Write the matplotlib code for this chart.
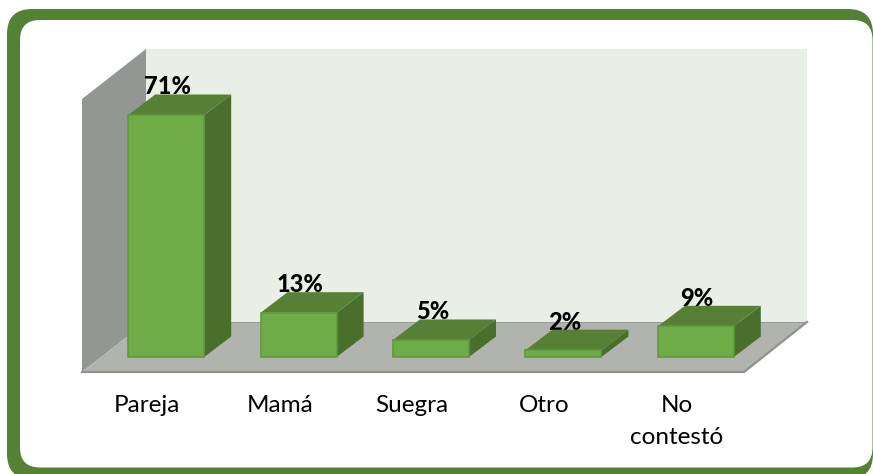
import matplotlib
matplotlib.use("Agg")
import matplotlib.pyplot as plt
from matplotlib.patches import FancyBboxPatch, Polygon

categories = ["Pareja", "Mamá", "Suegra", "Otro", "No\ncontestó"]
values = [71, 13, 5, 2, 9]
labels = ["71%", "13%", "5%", "2%", "9%"]

W, H = 873, 474
plt.rcParams["font.family"] = ["Lato", "DejaVu Sans"]
fig = plt.figure(figsize=(W / 100, H / 100), dpi=100, facecolor="white")

# frame
bg = fig.add_axes([0, 0, 1, 1])
bg.set_xlim(0, W)
bg.set_ylim(H, 0)
bg.axis("off")
bg.add_patch(FancyBboxPatch((32, 34), 816, 420, boxstyle="round,pad=25,rounding_size=25",
                            fc="#548235", ec="none"))
bg.add_patch(FancyBboxPatch((40, 40), 812.5, 407.5, boxstyle="round,pad=20,rounding_size=20",
                            fc="white", ec="none"))

# plot axes: x = category index, y = percent
x0, x1 = 100, 762
yb, yt = 357, 115
ax = fig.add_axes([x0 / W, 1 - yb / H, (x1 - x0) / W, (yb - yt) / H])
ax.set_xlim(-0.5, 4.5)
ax.set_ylim(0, 71)
ax.axis("off")
ax.patch.set_alpha(0)

px_x = (x1 - x0) / 5
px_y = (yb - yt) / 71
dep_x = 27 / px_x
dep_y = 20.5 / px_y
half = 38 / px_x


def P(pts, **kw):
    kw.setdefault("ec", "none")
    ax.add_patch(Polygon(pts, closed=True, clip_on=False, **kw))


def X(px):
    return (px - x0) / px_x - 0.5


def Y(py):
    return (yb - py) / px_y


# walls & floor
P([(X(146), Y(49)), (X(807), Y(49)), (X(807), Y(322)), (X(146), Y(322))], fc="#E9EEE7")
P([(X(82), Y(99)), (X(146), Y(49)), (X(146), Y(322)), (X(82), Y(372))], fc="#939793")
P([(X(82), Y(372)), (X(146), Y(322)), (X(807), Y(322)), (X(744), Y(372))], fc="#B0B3AE")
ax.plot([X(82), X(744), X(807)], [Y(372), Y(372), Y(322)], color="#8F928D", lw=1.6,
        clip_on=False, solid_joinstyle="miter")
ax.plot([X(146), X(807)], [Y(322), Y(322)], color="#9A9D98", lw=0.8, clip_on=False)

for i, (v, lab, cat) in enumerate(zip(values, labels, categories)):
    l, r = i - half, i + half
    P([(r, 0), (r + dep_x, dep_y), (r + dep_x, v + dep_y), (r, v)], fc="#4A6E2B", zorder=3)
    P([(l, v), (r, v), (r + dep_x, v + dep_y), (l + dep_x, v + dep_y)], fc="#578036", zorder=3)
    P([(l, 0), (r, 0), (r, v), (l, v)], fc="#6FAC47", ec="#5F9A3C", lw=1.2, zorder=4)
    ax.text(i + 0.01, v + dep_y, lab, ha="center", va="baseline", fontsize=17,
            fontweight=900, color="black", zorder=2, clip_on=False)
    ax.text(i - 0.143, Y(395), cat, ha="center", va="top", fontsize=17.5, color="black",
            clip_on=False, linespacing=1.65)

fig.savefig("out.png", dpi=100)
